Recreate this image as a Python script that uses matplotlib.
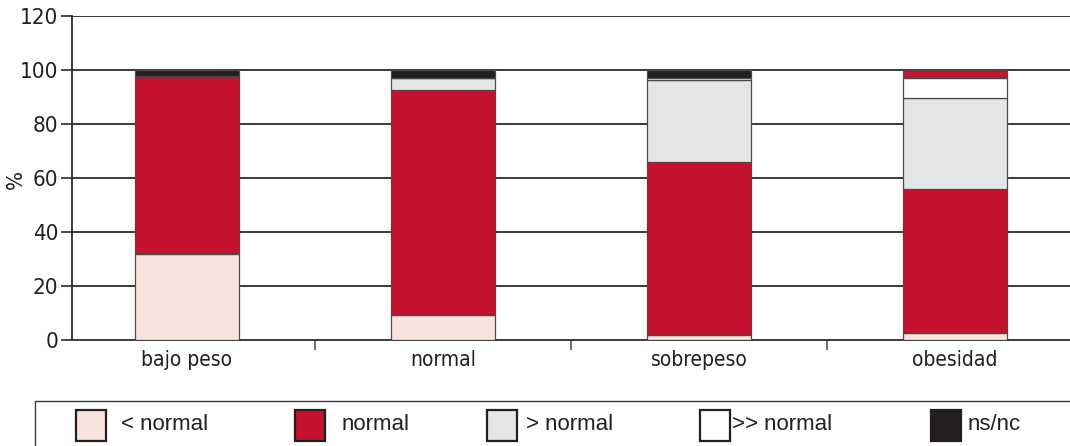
import matplotlib
matplotlib.use("Agg")
import matplotlib.pyplot as plt
from matplotlib.patches import Rectangle
import numpy as np

categories = ["bajo peso", "normal", "sobrepeso", "obesidad"]
series_names = ["< normal", "normal", "> normal", ">> normal", "ns/nc"]
below_normal = [32.0, 9.3, 2.0, 2.7]
normal = [65.3, 83.3, 64.0, 53.2]
above_normal = [0.0, 4.4, 30.3, 33.8]
well_above_normal = [0.5, 0.0, 0.7, 7.4]
ns_nc = [2.2, 3.0, 3.0, 2.9]
y_ticks = [0, 20, 40, 60, 80, 100, 120]

series = [below_normal, normal, above_normal, well_above_normal, ns_nc]
colors = ["#f8e3dc", "#c4122f", "#e4e5e7", "#ffffff", "#231f20"]
# the top segment of the last bar is printed in red
ns_nc_colors = ["#231f20", "#231f20", "#231f20", "#c4122f"]

W, H = 1070, 446
fig = plt.figure(figsize=(W / 100, H / 100), dpi=100)
ax = fig.add_axes([72 / W, (H - 340) / H, 1 - 72 / W, (340 - 16) / H])

x = np.arange(len(categories))
bottom = np.zeros(len(categories))
for i, vals in enumerate(series):
    col = ns_nc_colors if i == 4 else colors[i]
    ax.bar(x, vals, width=0.405, bottom=bottom, color=col,
           edgecolor="#4a4a4a", linewidth=0.9, zorder=3)
    bottom += np.array(vals)

ax.set_ylim(0, 120)
ax.set_xlim(-0.449, 3.45)
ax.set_yticks(y_ticks)
ax.set_yticklabels([str(v) for v in y_ticks], fontsize=16, color="#231f20",
                   family="DejaVu Sans", fontstretch="condensed")
for v in y_ticks[1:]:
    ax.axhline(v, color="#2b2b2b", linewidth=1.3, zorder=1)

ax.set_xticks(x)
ax.set_xticklabels(categories, fontsize=15, color="#231f20",
                   family="DejaVu Sans", fontstretch="condensed")
ax.set_xticks([0.5, 1.5, 2.5], minor=True)
ax.tick_params(axis="x", which="major", length=0, pad=7)
ax.tick_params(axis="x", which="minor", length=7, width=1.2, color="#555555")
ax.tick_params(axis="y", length=8, width=1.2, color="#2b2b2b", pad=2)

fig.text(16 / W, 1 - 179 / H, "%", rotation=90, fontsize=16,
         color="#231f20", ha="center", va="center",
         family="DejaVu Sans", fontstretch="condensed")

for s in ["top", "right"]:
    ax.spines[s].set_visible(False)
ax.spines["left"].set_color("#2b2b2b")
ax.spines["left"].set_linewidth(1.3)
ax.spines["bottom"].set_color("#2b2b2b")
ax.spines["bottom"].set_linewidth(1.3)

# legend panel in pixel coordinates
lg = fig.add_axes([0, 0, 1, 1], zorder=-1)
lg.set_xlim(0, W)
lg.set_ylim(H, 0)
lg.axis("off")
lg.add_patch(Rectangle((35, 401), W, 60, facecolor="white",
                       edgecolor="#3a3a3a", linewidth=1.0))
patch_x = [76, 295, 487, 700, 931]
label_x = [121, 342, 526, 732, 968]
for px, lx, name, c in zip(patch_x, label_x, series_names, colors):
    lg.add_patch(Rectangle((px, 410), 30, 31, facecolor=c,
                           edgecolor="#231f20", linewidth=1.6))
    lg.text(lx, 424, name, fontsize=16, family="Liberation Sans",
            color="#231f20", va="center", ha="left")

fig.savefig("out.png", dpi=100)
